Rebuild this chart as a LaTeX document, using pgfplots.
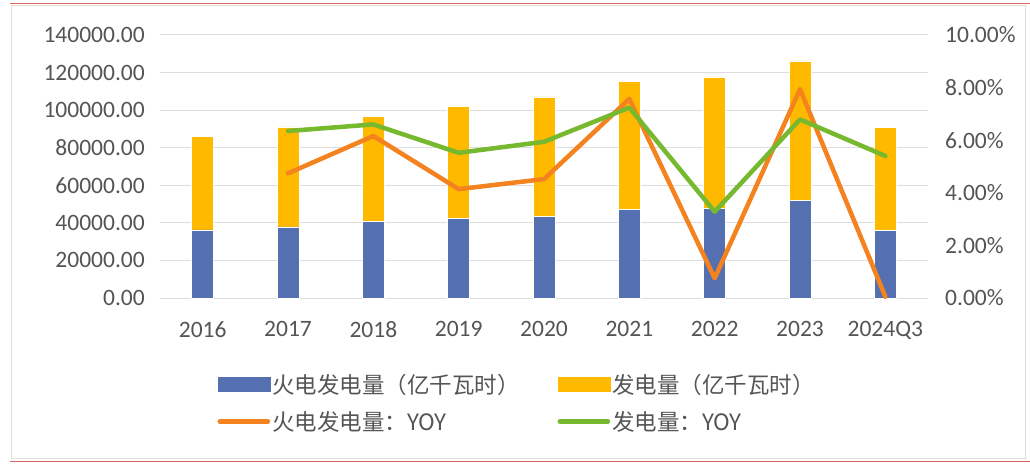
\documentclass[border=0pt]{standalone}
\usepackage{pgfplots}
\pgfplotsset{compat=1.18}
\usepackage{fontspec}
\setmainfont{Carlito}
\newfontfamily\cjk{Noto Sans CJK SC}
\definecolor{cBlue}{HTML}{5470B0}
\definecolor{cYellow}{HTML}{FFBA00}
\definecolor{cOrange}{HTML}{F4821E}
\definecolor{cGreen}{HTML}{76B82E}
\definecolor{cText}{HTML}{555555}
\definecolor{cGrid}{HTML}{DDDDDD}
\definecolor{cRed}{HTML}{E06666}
\begin{document}
\begin{tikzpicture}[x=1pt,y=1pt]
\useasboundingbox (0,0) rectangle (1030,464);
\fill[white] (0,0) rectangle (1030,464);
\draw[cGrid, line width=1pt] (11,6) rectangle (1025,458);
\draw[cRed, line width=1.2pt] (10,460.3) -- (1030,460.3);
\draw[cRed, line width=1.2pt] (10,2.5) -- (1030,2.5);
\pgfplotsset{
  common/.style={scale only axis, width=768pt, height=263pt,
    at={(160pt,166pt)}, anchor=south west, xmin=-0.5, xmax=8.5,
    tick label style={font=\fontsize{23.5}{27}\selectfont, text=cText},
    /pgf/number format/assume math mode=true, major tick length=0pt}
}
\begin{axis}[common, ybar stacked, bar width=22pt,
  ymin=0, ymax=140000, ytick={0,20000,...,140000}, scaled y ticks=false,
  yticklabel={\pgfmathprintnumber[fixed,fixed zerofill,precision=2,1000 sep={}]{\tick}},
  yticklabel style={anchor=east, inner sep=0pt, xshift=-15pt},
  xtick={0,...,8},
  xticklabels={2016,2017,2018,2019,2020,2021,2022,2023,2024Q3},
  xticklabel style={anchor=north, inner sep=0pt, yshift=-23pt},
  ymajorgrids, grid style={cGrid, line width=1pt},
  axis x line*=bottom, axis y line*=left,
  y axis line style={draw=none}, x axis line style={cGrid, line width=1pt, -},
]
\addplot[fill=cBlue, draw=white, line width=0.6pt] coordinates {
 (0,36200) (1,37900) (2,40600) (3,42400) (4,43600) (5,47200) (6,47500) (7,51800) (8,35800)};
\addplot[fill=cYellow, draw=white, line width=0.6pt] coordinates {
 (0,50000) (1,53200) (2,56200) (3,59400) (4,63500) (5,67900) (6,70200) (7,74400) (8,55000)};
\end{axis}
\begin{axis}[common, ymin=0, ymax=10, ytick={0,2,...,10},
  axis y line*=right, axis x line=none, y axis line style={draw=none},
  yticklabel={\pgfmathprintnumber[fixed,fixed zerofill,precision=2]{\tick}\%},
  yticklabel style={anchor=west, inner sep=0pt, xshift=17pt},
  legend columns=2, legend cell align=left,
  legend style={at={(0.465,-0.399)}, anchor=center, draw=none, fill=none,
    font=\cjk\fontsize{22.5}{26}\selectfont, text=cText,
    /tikz/every even column/.append style={column sep=36pt}, row sep=12pt},
]
\addlegendimage{legend image code/.code={\fill[cBlue] (0pt,-7pt) rectangle (52pt,7pt);}}
\addlegendentry{火电发电量（亿千瓦时）}
\addlegendimage{legend image code/.code={\fill[cYellow] (0pt,-7pt) rectangle (52pt,7pt);}}
\addlegendentry{发电量（亿千瓦时）}
\addplot[cOrange, line width=4.5pt, line join=round, line cap=round,
  legend image code/.code={\draw (2pt,0pt) -- (50pt,0pt);}] coordinates {
 (1,4.74) (2,6.16) (3,4.14) (4,4.52) (5,7.57) (6,0.75) (7,7.94) (8,0.05)};
\addlegendentry{火电发电量：YOY}
\addplot[cGreen, line width=4.5pt, line join=round, line cap=round,
  legend image code/.code={\draw (2pt,0pt) -- (50pt,0pt);}] coordinates {
 (1,6.35) (2,6.60) (3,5.52) (4,5.94) (5,7.24) (6,3.28) (7,6.79) (8,5.40)};
\addlegendentry{发电量：YOY}
\end{axis}
\end{tikzpicture}
\end{document}
